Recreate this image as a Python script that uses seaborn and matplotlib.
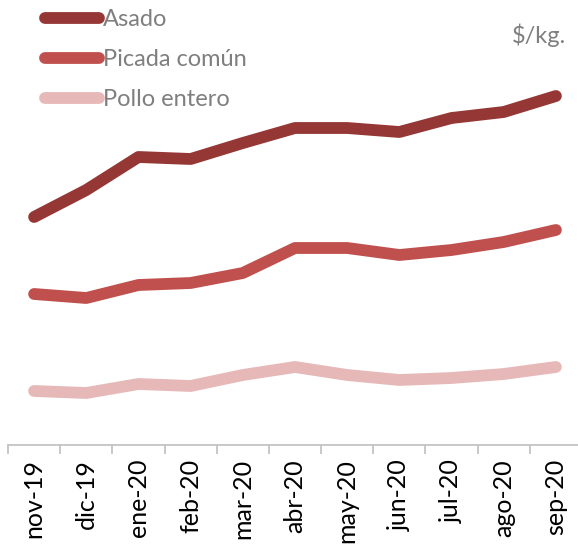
import numpy as np
import pandas as pd
import matplotlib
matplotlib.use("Agg")
import matplotlib.pyplot as plt
import seaborn as sns

# monthly price series ($/kg.)
meses = ["nov-19", "dic-19", "ene-20", "feb-20", "mar-20", "abr-20",
         "may-20", "jun-20", "jul-20", "ago-20", "sep-20"]
asado = [228, 255, 288, 286, 302, 317, 317, 313, 327, 333, 349]
picada = [151, 147, 160, 162, 172, 197, 197, 190, 195, 203, 215]
pollo = [54, 52, 61, 59, 70, 78, 70, 65, 67, 71, 78]

series = ["Asado", "Picada común", "Pollo entero"]
colores = ["#953735", "#C0504D", "#E6B9B8"]

df = pd.DataFrame({
    "mes": meses * 3,
    "x": list(range(len(meses))) * 3,
    "valor": asado + picada + pollo,
    "serie": [s for s in series for _ in meses],
})

sns.set_theme(style="white")
plt.rcParams["font.family"] = ["Lato", "DejaVu Sans"]

W, H = 578, 549
fig = plt.figure(figsize=(W / 100, H / 100), dpi=100)
ax = fig.add_axes([8 / W, (H - 445) / H, 574 / W, 445 / H])

sns.lineplot(data=df, x="x", y="valor", hue="serie", hue_order=series,
             palette=colores, linewidth=8.5, ax=ax, legend=True)
for ln in ax.get_lines():
    ln.set_solid_capstyle("round")
    ln.set_solid_joinstyle("round")

ax.set_xlim(-0.5, len(meses) - 0.5)
ax.set_ylim(0, 445)
ax.set_xlabel("")
ax.set_ylabel("")
ax.set_yticks([])
ax.set_xticks(range(len(meses)))
ax.set_xticklabels(meses, rotation=90, fontsize=18, color="black")
ax.set_xticks(np.arange(-0.5, len(meses)), minor=True)
ax.tick_params(axis="x", which="major", length=0, pad=10)
ax.tick_params(axis="x", which="minor", length=6.5, width=1.2,
               color="#BFBFBF", bottom=True)
for s in ["top", "right", "left"]:
    ax.spines[s].set_visible(False)
ax.spines["bottom"].set_color("#BFBFBF")
ax.spines["bottom"].set_linewidth(1.2)

handles, labels = ax.get_legend_handles_labels()
leg = ax.legend(handles, labels, loc="upper left",
                bbox_to_anchor=(45 / W, 1 - 9 / H), bbox_transform=fig.transFigure,
                frameon=False, fontsize=17, handlelength=2.3, handletextpad=0.15,
                labelspacing=0.8, borderpad=0, borderaxespad=0)
for t in leg.get_texts():
    t.set_color("#7F7F7F")
for h in leg.legend_handles:
    h.set_linewidth(8.5)
    h.set_solid_capstyle("round")

fig.text(566 / W, 1 - 35 / H, "$/kg.", ha="right", va="center",
         fontsize=17, color="#7F7F7F")

fig.savefig("out.png", dpi=100)
